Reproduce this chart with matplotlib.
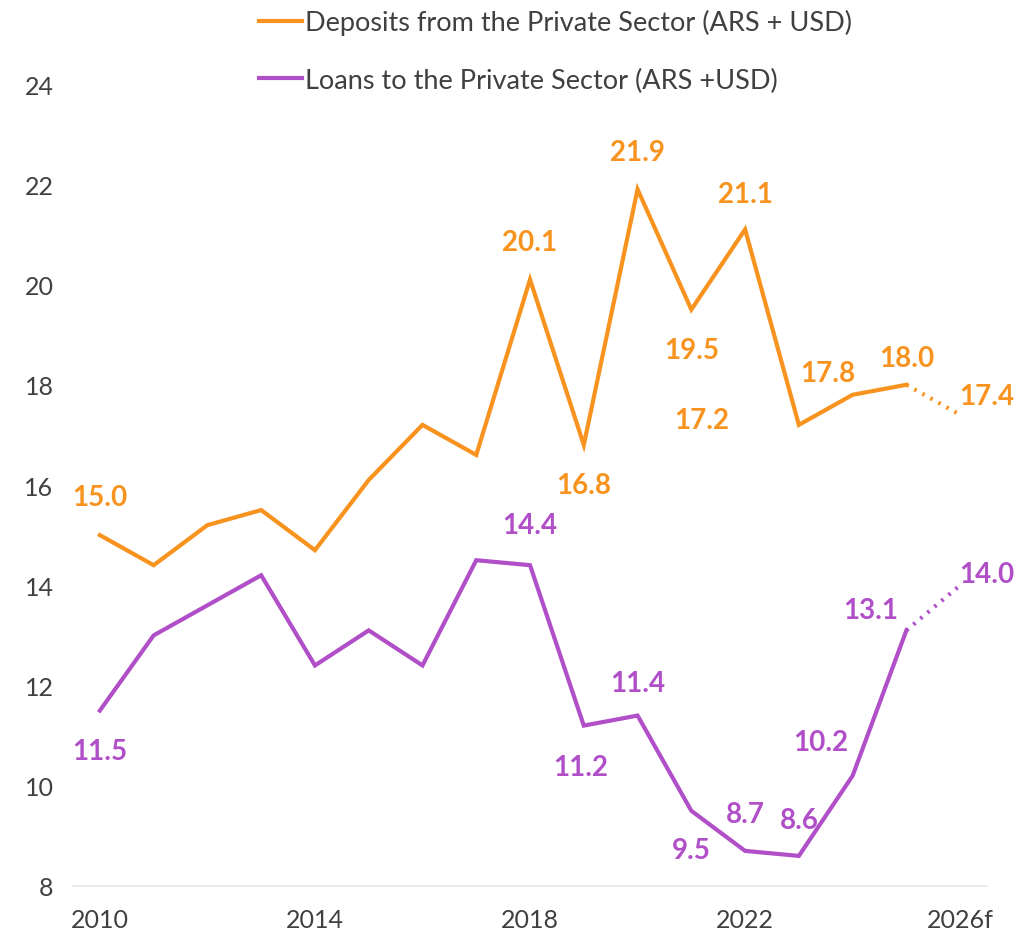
import matplotlib.pyplot as plt
import numpy as np

years = list(range(2010, 2027))
deposits = [15.0, 14.4, 15.2, 15.5, 14.7, 16.1, 17.2, 16.6, 20.1, 16.8, 21.9, 19.5, 21.1, 17.2, 17.8, 18.0, 17.4]
loans = [11.5, 13.0, 13.6, 14.2, 12.4, 13.1, 12.4, 14.5, 14.4, 11.2, 11.4, 9.5, 8.7, 8.6, 10.2, 13.1, 14.0]

tick_years = [2010, 2014, 2018, 2022, 2026]
tick_labels = ['2010', '2014', '2018', '2022', '2026f']

# which years get a value label, and where (offset in pixels)
dep_labels = {2010: (0, 38), 2018: (0, 38), 2019: (0, -40), 2020: (0, 37), 2021: (0, -40),
              2022: (0, 35), 2023: (-97, 5), 2024: (-25, 22), 2025: (0, 27), 2026: (27, 19)}
loan_labels = {2010: (0, -40), 2018: (0, 40), 2019: (-3, -41), 2020: (0, 33), 2021: (0, -39),
               2022: (0, 37), 2023: (0, 36), 2024: (-32, 34), 2025: (-36, 20), 2026: (27, 11)}

orange = '#F7931E'
purple = '#B04FC8'

plt.rcParams['font.family'] = ['Lato', 'DejaVu Sans']

fig = plt.figure(figsize=(10.18, 9.45), dpi=100)
ax = fig.add_axes([0.0717, 0.0614, 0.8979, 0.8486])

# solid up to 2025, dotted forecast to 2026
ax.plot(years[:-1], deposits[:-1], color=orange, lw=3, solid_joinstyle='miter',
        label='Deposits from the Private Sector (ARS + USD)')
ax.plot(years[-2:], deposits[-2:], color=orange, lw=3, ls=(0, (0.6, 1.6)))
ax.plot(years[:-1], loans[:-1], color=purple, lw=3, solid_joinstyle='miter',
        label='Loans to the Private Sector (ARS +USD)')
ax.plot(years[-2:], loans[-2:], color=purple, lw=3, ls=(0, (0.6, 1.6)))

px = 0.72  # points per pixel
for yr, (dx, dy) in dep_labels.items():
    v = deposits[years.index(yr)]
    ax.annotate(f'{v:.1f}', (yr, v), xytext=(dx * px, dy * px), textcoords='offset points',
                ha='center', va='center', color=orange, fontsize=20, fontweight='bold')
for yr, (dx, dy) in loan_labels.items():
    v = loans[years.index(yr)]
    ax.annotate(f'{v:.1f}', (yr, v), xytext=(dx * px, dy * px), textcoords='offset points',
                ha='center', va='center', color=purple, fontsize=20, fontweight='bold')

ax.set_xlim(2009.5, 2026.5)
ax.set_ylim(8, 24)
ax.set_yticks(range(8, 25, 2))
ax.set_xticks(tick_years)
ax.set_xticklabels(tick_labels)
ax.tick_params(length=0, labelsize=18, labelcolor='#404040')
ax.tick_params(axis='y', pad=14)
ax.tick_params(axis='x', pad=16)
for s in ['top', 'right', 'left']:
    ax.spines[s].set_visible(False)
ax.spines['bottom'].set_color('#e8e8e8')
ax.spines['bottom'].set_linewidth(1.2)

fig.legend(loc='upper left', bbox_to_anchor=(0.23, 1.015), frameon=False, fontsize=19.5,
           handlelength=1.6, handletextpad=0.1, labelspacing=1.2, labelcolor='#404040')

fig.savefig('out.png', dpi=100)
